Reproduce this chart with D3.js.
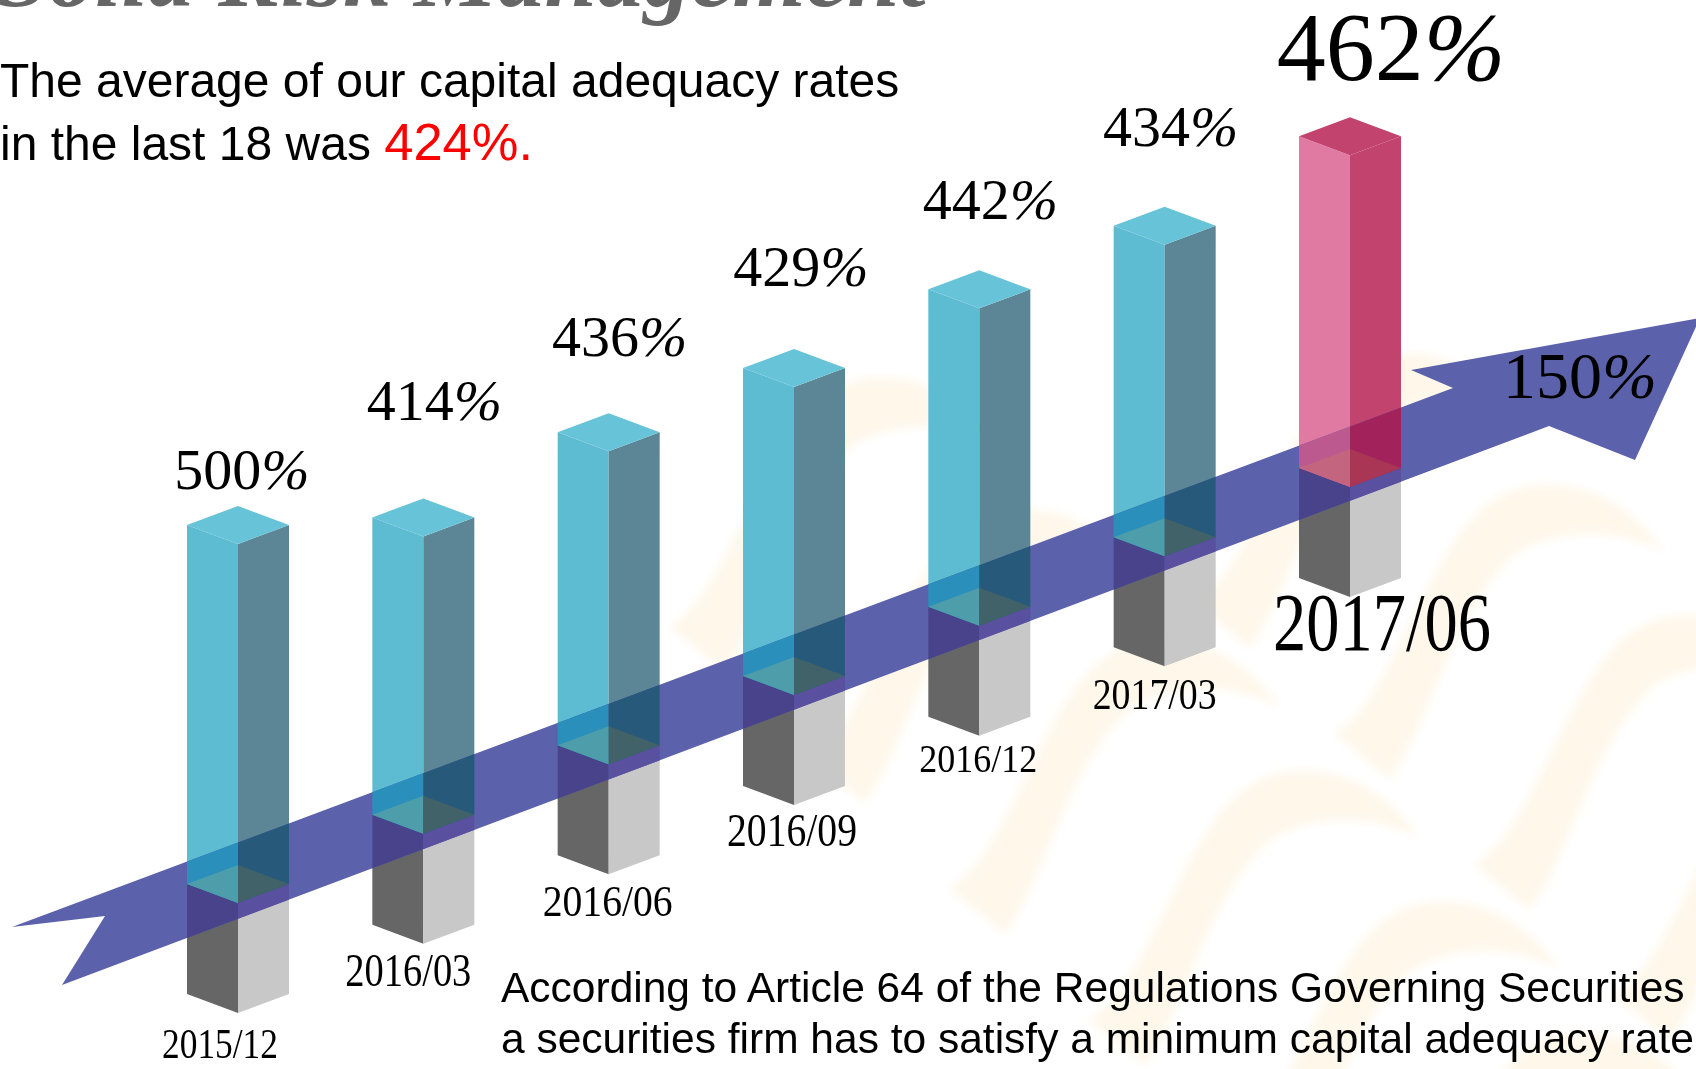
<!DOCTYPE html>
<html><head><meta charset="utf-8">
<script src="https://cdn.jsdelivr.net/npm/d3@7/dist/d3.min.js"></script>
<style>html,body{margin:0;padding:0;background:#fff;overflow:hidden}svg{display:block}</style>
</head><body><div id="c"></div>
<script>
const categories = ["2015/12","2016/03","2016/06","2016/09","2016/12","2017/03","2017/06"];
const values = [500,414,436,429,442,434,462];
const valueLabels = ["500","414","436","429","442","434","462"];
const thresholdLabel = "150";
const headline = "Solid Risk Management";
const intro = ["The average of our capital adequacy rates","in the last 18 was ","424%."];
const note = ["According to Article 64 of the Regulations Governing Securities","a securities firm has to satisfy a minimum capital adequacy rate of"];

const W=1696,H=1069;
const svg=d3.select("#c").append("svg").attr("width",W).attr("height",H);
const x=d3.scalePoint().domain(categories).range([238,1350]);
const base=d3.scaleLinear().domain([0,categories.length-1]).range([865,449]);
const h=d3.scaleLinear().domain([0,500]).range([0,359]);
const hw=51, dy=19, pillar=110;
const line=d3.line();

// watermark: one S-band repeated along two diagonals
const defs=svg.append("defs");
defs.append("filter").attr("id","soft").append("feGaussianBlur").attr("stdDeviation",4);
const wave="M1090,1020 L1145,1065 C1190,1000 1205,900 1270,840 C1310,815 1370,812 1420,838 C1385,790 1340,765 1285,772 C1225,780 1195,850 1160,920 C1140,960 1120,1000 1090,1020Z";
const waveShifts=[[-420,-393],[-280,-262],[-140,-131],[0,0],[140,131],[280,262],[105,-417],[245,-286],[385,-155],[525,-24],[630,-441]];
svg.append("g").attr("fill","#fef7ea").attr("filter","url(#soft)")
 .selectAll("path").data(waveShifts).join("path").attr("d",wave).attr("transform",d=>`translate(${d[0]},${d[1]})`);

const arrowPts=[[12,927],[105,916],[62,985],[1549,426],[1635,460],[1700,318],[1411,370],[1453,388]];
defs.append("clipPath").attr("id","arrowClip").append("path").attr("d",line(arrowPts)+"Z");

const palette=i=>i===categories.length-1
 ?{l:"#e07aa2",r:"#c1436e",t:"#c2436e",la:"#bc5a90",ra:"#a2235b",bl:"#c4657f",br:"#a83654"}
 :{l:"#5dbcd2",r:"#5c8696",t:"#66c3d8",la:"#2b8fbb",ra:"#27597b",bl:"#4d9eaa",br:"#416268"};

const geo=categories.map((c,i)=>{
 const cx=x(c),b=base(i),top=b-h(values[i]);
 return {c,i,cx,b,top,
  gl:[[cx-hw,b+dy],[cx,b+2*dy],[cx,b+2*dy+pillar],[cx-hw,b+dy+pillar]],
  gr:[[cx,b+2*dy],[cx+hw,b+dy],[cx+hw,b+dy+pillar],[cx,b+2*dy+pillar]],
  fl:[[cx-hw,top+dy],[cx,top+2*dy],[cx,b+2*dy],[cx-hw,b+dy]],
  fr:[[cx,top+2*dy],[cx+hw,top+dy],[cx+hw,b+dy],[cx,b+2*dy]],
  tp:[[cx,top],[cx+hw,top+dy],[cx,top+2*dy],[cx-hw,top+dy]],
  rl:[[cx,b],[cx,b+2*dy],[cx-hw,b+dy]],
  rr:[[cx,b],[cx+hw,b+dy],[cx,b+2*dy]]};
});
function faces(g,key,fill){
 g.selectAll(null).data(geo).join("path").attr("d",d=>line(d[key])+"Z").attr("fill",fill);
}
const g0=svg.append("g");
faces(g0,"gl","#666666"); faces(g0,"gr","#c8c8c8");
faces(g0,"fl",d=>palette(d.i).l); faces(g0,"fr",d=>palette(d.i).r);
svg.append("path").attr("d",line(arrowPts)+"Z").attr("fill","#5b62ab");
const g1=svg.append("g").attr("clip-path","url(#arrowClip)");
faces(g1,"gl","#48438a"); faces(g1,"gr","#5950a0");
faces(g1,"fl",d=>palette(d.i).la); faces(g1,"fr",d=>palette(d.i).ra);
const g2=svg.append("g");
faces(g2,"rl",d=>palette(d.i).bl); faces(g2,"rr",d=>palette(d.i).br);
faces(g2,"tp",d=>palette(d.i).t);

// title + texts
svg.append("text").attr("x",-4).attr("y",6).attr("font-family","Liberation Serif").attr("font-weight","bold").attr("font-style","italic")
 .attr("font-size",94).attr("fill","#666").text(headline);
const sans="Liberation Sans";
const t1=svg.append("g").attr("font-family",sans).attr("font-size",48).attr("fill","#000");
t1.append("text").attr("x",0).attr("y",97).text(intro[0]);
const tl=t1.append("text").attr("x",0).attr("y",160);
tl.append("tspan").text(intro[1]); tl.append("tspan").attr("fill","#ff0000").attr("font-size",52.5).text(intro[2]);
const t2=svg.append("g").attr("font-family",sans).attr("font-size",42.5).attr("fill","#000");
note.forEach((s,i)=>t2.append("text").attr("x",501).attr("y",i?1053:1002).text(s));

// value labels, with an italic percent sign as in the reference
const valDx=[4,11,11,7,11,6,41], valDy=[-17,-78,-57,-63,-51,-61,-37], valSize=[58,58,58,58,58,58,98];
const serifLabel=(sel,txt)=>{sel.append("tspan").text(txt); sel.append("tspan").attr("font-style","italic").text("%");};
svg.append("g").attr("font-family","Liberation Serif").attr("text-anchor","middle").selectAll("text").data(geo).join("text")
 .attr("x",d=>d.cx+valDx[d.i]).attr("y",d=>d.top+valDy[d.i]).attr("font-size",d=>valSize[d.i])
 .each(function(d){serifLabel(d3.select(this),valueLabels[d.i]);});
svg.append("text").attr("x",1580).attr("y",398).attr("font-family","Liberation Serif").attr("text-anchor","middle").attr("font-size",66)
 .call(s=>serifLabel(s,thresholdLabel));

// date labels
const dateDx=[-18,-15,-1,-2,-1,-10,32], dateDy=[45,42,42,41,36,43,53], dateSize=[42,46,44,46,40,44,82], dateLen=[116,126,130,130,118,124,218];
svg.append("g").attr("font-family","Liberation Serif").attr("text-anchor","middle").selectAll("text").data(geo).join("text")
 .attr("x",d=>d.cx+dateDx[d.i]).attr("y",d=>d.b+2*dy+pillar+dateDy[d.i]).attr("font-size",d=>dateSize[d.i])
 .attr("textLength",d=>dateLen[d.i]).attr("lengthAdjust","spacingAndGlyphs").text(d=>d.c);
</script></body></html>
